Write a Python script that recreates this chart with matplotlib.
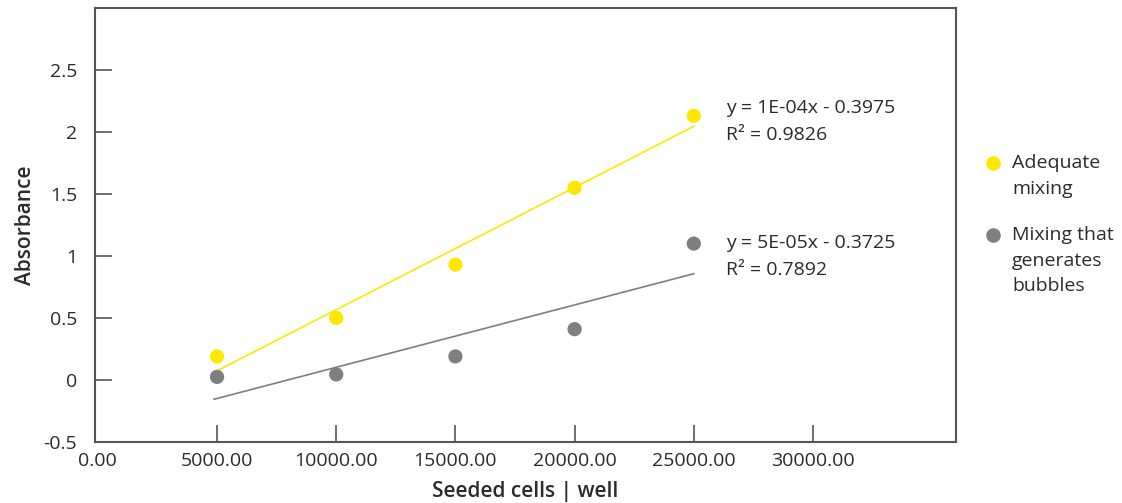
import numpy as np
import matplotlib
matplotlib.use('Agg')
import matplotlib.pyplot as plt
from matplotlib.lines import Line2D

# Data
cells = np.array([5000, 10000, 15000, 20000, 25000])
adequate = np.array([0.19, 0.50, 0.93, 1.55, 2.13])
bubbles = np.array([0.025, 0.045, 0.19, 0.41, 1.10])
labels = [['Adequate', 'mixing'], ['Mixing that', 'generates', 'bubbles']]
eqs = ['y = 1E-04x - 0.3975', 'y = 5E-05x - 0.3725']
r2s = ['R² = 0.9826', 'R² = 0.7892']
xticks = [0, 5000, 10000, 15000, 20000, 25000, 30000]
yticks = [-0.5, 0, 0.5, 1, 1.5, 2, 2.5]

YELLOW = '#FFE800'
GRAY = '#7F7F83'
TXT = '#2B2B2B'

plt.rcParams['font.family'] = ['Open Sans', 'DejaVu Sans']

fig = plt.figure(figsize=(11.22, 5.03), dpi=100)
ax = fig.add_axes([95/1122, 61/503, 861/1122, 434/503])

for yv, col in [(adequate, YELLOW), (bubbles, GRAY)]:
    ax.scatter(cells, yv, s=105, color=col, edgecolor='none', zorder=3)
    k, b = np.polyfit(cells, yv, 1)
    xx = np.array([cells.min() - 130, cells.max()])
    ax.plot(xx, k*xx + b, color=col, lw=1.2, zorder=2)

# equation labels, placed to the right of the last point
for i, y0 in enumerate([2.19, 1.105]):
    ax.text(26350, y0, eqs[i], fontsize=14, color=TXT, va='center', ha='left')
    ax.text(26350, y0 - 0.218, r2s[i], fontsize=14, color=TXT, va='center', ha='left')

ax.set_xlim(-120, 36000)
ax.set_ylim(-0.5, 3.0)
ax.set_xticks(xticks)
ax.set_xticklabels(['%.2f' % v for v in xticks])
ax.set_yticks(yticks)
ax.set_yticklabels(['%g' % v for v in yticks])
ax.tick_params(direction='in', length=12, width=1.2, color='#555555',
               labelsize=14, labelcolor=TXT)
ax.tick_params(axis='x', pad=7)
ax.tick_params(axis='y', pad=13)
ax.xaxis.get_major_ticks()[0].tick1line.set_visible(False)
for side in ['left', 'bottom', 'top', 'right']:
    ax.spines[side].set_color('#555555')
    ax.spines[side].set_linewidth(1.5)

ax.set_xlabel('Seeded cells | well', fontsize=15, color=TXT, fontweight='semibold', labelpad=8)
ax.set_ylabel('Absorbance', fontsize=15, color=TXT, fontweight='semibold', labelpad=5)

# legend
for (yc, col, lab) in [(163, YELLOW, labels[0]), (235, GRAY, labels[1])]:
    fig.add_artist(Line2D([993/1122], [1 - yc/503], marker='o', ms=10.5, color=col,
                          mec='none', transform=fig.transFigure))
    for j, line in enumerate(lab):
        fig.text(1012/1122, 1 - (yc + 25.5*j)/503, line, fontsize=14, color=TXT,
                 ha='left', va='center')

fig.savefig('out.png', dpi=100)
